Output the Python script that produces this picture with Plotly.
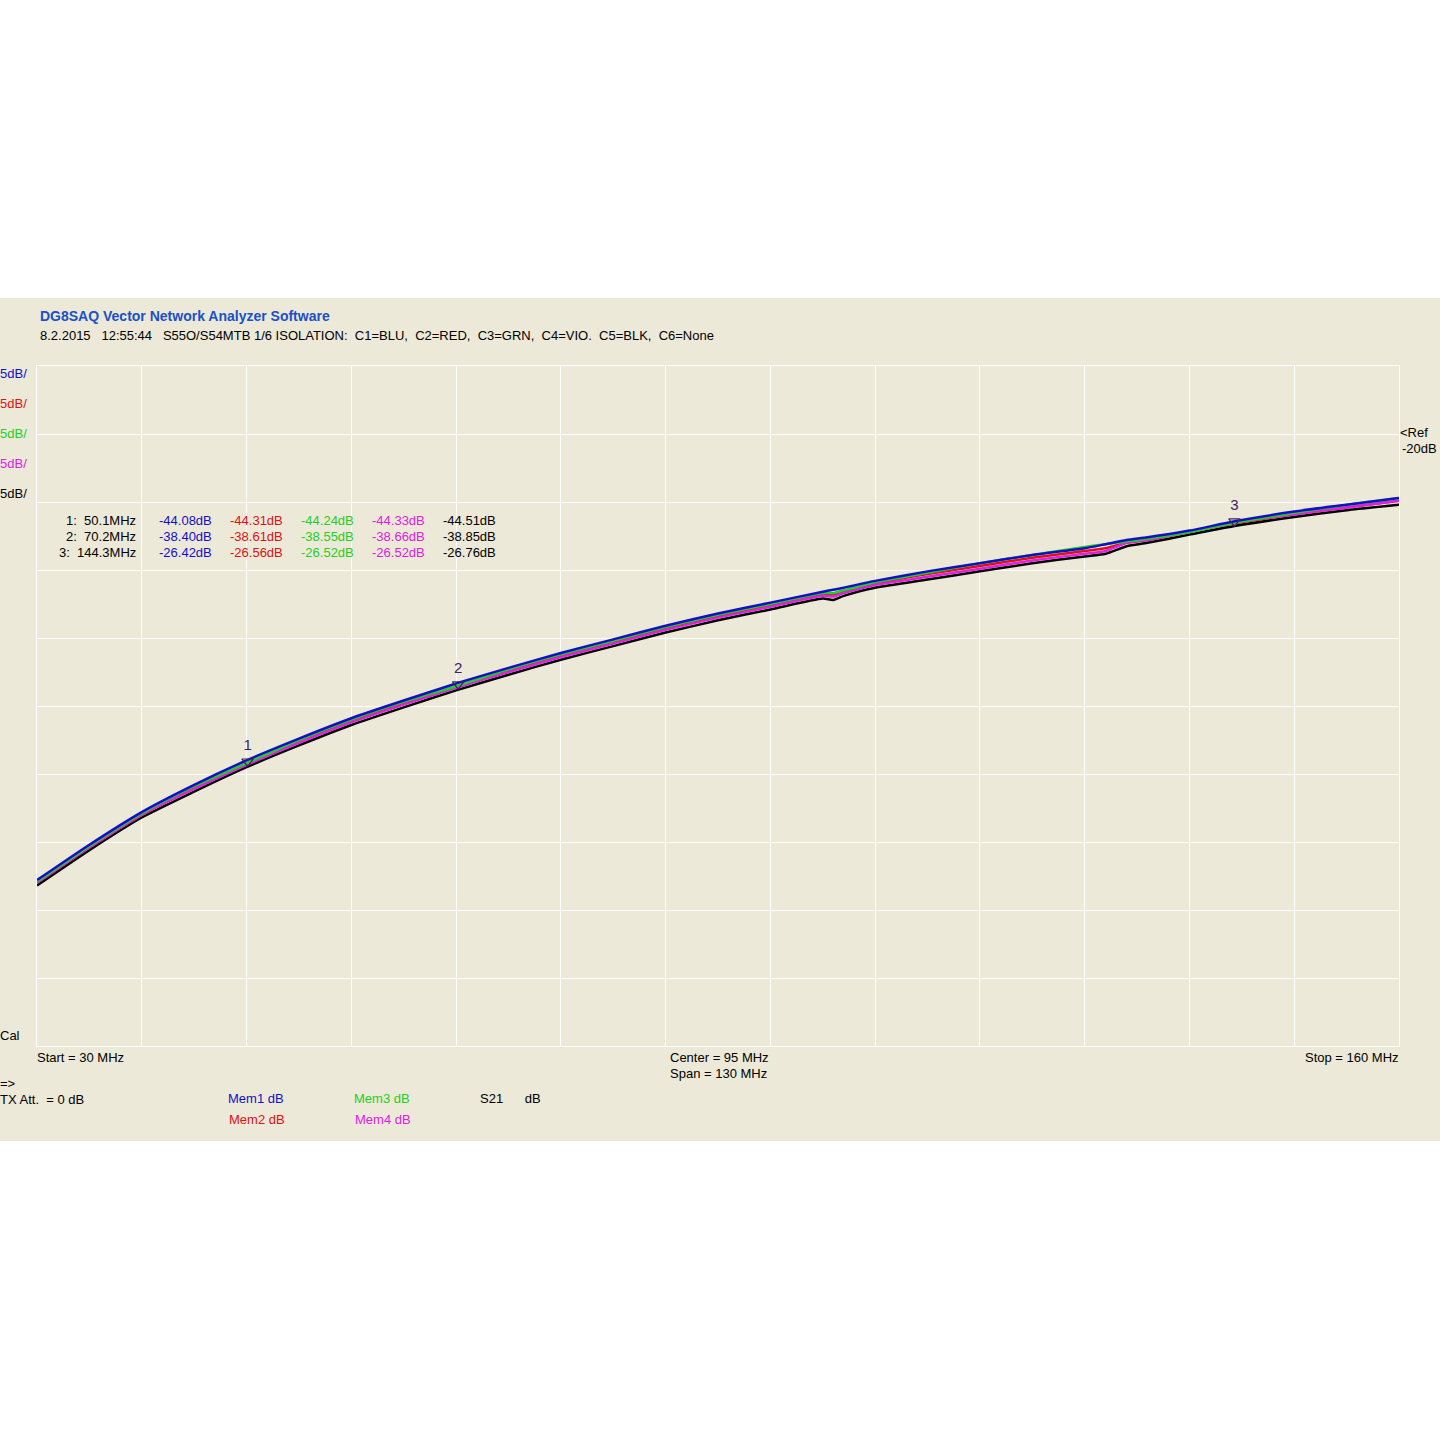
import plotly.graph_objects as go

# ---------------- data ----------------
freq_mhz = [30, 35, 40, 45, 50, 55, 60, 65, 70, 75, 80, 85, 90, 95, 100, 105, 106, 107,
            110, 115, 120, 125, 130, 132, 134, 136, 140, 144.3, 150, 155, 160]
mem1_blue = [-52.8, -50.2, -47.8, -45.8, -44.0, -42.4, -40.9, -39.6, -38.35, -37.2, -36.1, -35.1,
             -34.1, -33.2, -32.4, -31.6, -31.45, -31.3, -30.8, -30.1, -29.5, -28.9, -28.4, -28.1,
             -27.8, -27.6, -27.1, -26.42, -25.7, -25.2, -24.7]
mem2_red = [-53.0, -50.4, -48.0, -46.0, -44.3, -42.6, -41.1, -39.8, -38.6, -37.4, -36.3, -35.3,
            -34.3, -33.4, -32.6, -31.8, -31.8, -31.6, -31.0, -30.3, -29.7, -29.1, -28.6, -28.4,
            -28.0, -27.8, -27.2, -26.56, -25.9, -25.4, -24.9]
mem3_green = [-52.9, -50.3, -47.9, -45.9, -44.2, -42.5, -41.0, -39.7, -38.55, -37.3, -36.2, -35.2,
              -34.2, -33.3, -32.5, -31.7, -31.7, -31.5, -30.9, -30.2, -29.5, -28.9, -28.3, -28.1,
              -27.9, -27.7, -27.2, -26.52, -25.8, -25.2, -24.7]
mem4_violet = [-53.0, -50.4, -48.0, -46.1, -44.33, -42.7, -41.2, -39.9, -38.66, -37.5, -36.4, -35.4,
               -34.4, -33.5, -32.7, -31.9, -31.95, -31.7, -31.1, -30.5, -29.9, -29.3, -28.8, -28.6,
               -28.0, -27.8, -27.2, -26.52, -25.9, -25.4, -24.9]
s21_black = [-53.2, -50.6, -48.2, -46.3, -44.5, -42.9, -41.4, -40.1, -38.85, -37.7, -36.6, -35.6,
             -34.6, -33.7, -32.9, -32.1, -32.2, -31.9, -31.3, -30.7, -30.1, -29.5, -29.0, -28.8,
             -28.25, -28.0, -27.4, -26.76, -26.1, -25.6, -25.2]

marker_ids = ["1", "2", "3"]
marker_freq = [50.1, 70.2, 144.3]
marker_blue = [-44.08, -38.40, -26.42]
marker_red = [-44.31, -38.61, -26.56]
marker_green = [-44.24, -38.55, -26.52]
marker_violet = [-44.33, -38.66, -26.52]
marker_black = [-44.51, -38.85, -26.76]

# ---------------- styles ----------------
BEIGE = "#ECE9D8"
BLUE = "#1010C8"
RED = "#E01010"
GREEN = "#22D022"
VIO = "#E020E0"
BLK = "#000000"
FONT = "Liberation Sans"
FS = 13

L, R, T, B = 37, 1399, 366, 1046  # plot area pixels


def px(x):
    return (x - L) / (R - L)


def py(y):
    return (B - y) / (B - T)


fig = go.Figure()

series = [("S21", s21_black, BLK), ("Mem2", mem2_red, RED), ("Mem4", mem4_violet, VIO),
          ("Mem3", mem3_green, GREEN), ("Mem1", mem1_blue, BLUE)]
for name, vals, col in series:
    fig.add_trace(go.Scatter(x=freq_mhz, y=vals, mode="lines", name=name,
                             line=dict(color=col, width=2.5, shape="spline", smoothing=0.6),
                             showlegend=False))

fig.add_trace(go.Scatter(x=marker_freq, y=marker_blue, mode="markers+text",
                         text=marker_ids, textposition="top center",
                         textfont=dict(family=FONT, size=15, color="#402060"),
                         marker=dict(symbol="triangle-down-open", size=10,
                                     color="#402060", line=dict(width=1.2)),
                         showlegend=False))

ann = []


def txt(x, y, s, color=BLK, size=FS, anchor="left", bold=False):
    dx = -2 if anchor == "left" else 2
    ann.append(dict(x=px(x + dx), y=py(y), xref="paper", yref="paper",
                    text=("<b>%s</b>" % s) if bold else s,
                    showarrow=False, xanchor=anchor, yanchor="middle",
                    font=dict(family=FONT, size=size, color=color)))


txt(40, 316, "DG8SAQ Vector Network Analyzer Software", color="#1A50C8", size=14, bold=True)
txt(40, 336, "8.2.2015   12:55:44   S55O/S54MTB 1/6 ISOLATION:  C1=BLU,  C2=RED,  C3=GRN,  C4=VIO.  C5=BLK,  C6=None")

for i, col in enumerate([BLUE, RED, GREEN, VIO, BLK]):
    txt(0, 373 + 30 * i, "5dB/", color=col)

rows_y = [520, 536, 552]
for i in range(3):
    txt(136, rows_y[i], "%s:  %.1fMHz" % (marker_ids[i], marker_freq[i]), anchor="right")
    for xpos, arr, col in [(159, marker_blue, BLUE), (230, marker_red, RED), (301, marker_green, GREEN),
                           (372, marker_violet, VIO), (443, marker_black, BLK)]:
        txt(xpos, rows_y[i], "%.2fdB" % arr[i], color=col)

txt(1400, 432, "<Ref")
txt(1402, 448, "-20dB")
txt(0, 1035, "Cal")
txt(37, 1057, "Start = 30 MHz")
txt(670, 1057, "Center = 95 MHz")
txt(670, 1073, "Span = 130 MHz")
txt(1399, 1057, "Stop = 160 MHz", anchor="right")
txt(0, 1083, "=>")
txt(0, 1099, "TX Att.  = 0 dB")
txt(228, 1098, "Mem1 dB", color=BLUE)
txt(229, 1119, "Mem2 dB", color=RED)
txt(354, 1098, "Mem3 dB", color=GREEN)
txt(355, 1119, "Mem4 dB", color=VIO)
txt(480, 1098, "S21      dB")

fig.update_layout(
    width=1440, height=1440,
    margin=dict(l=L, r=1440 - R, t=T, b=1440 - B, pad=0),
    paper_bgcolor="white", plot_bgcolor=BEIGE,
    annotations=ann,
    shapes=[dict(type="rect", xref="paper", yref="paper", layer="below",
                 x0=px(0), x1=px(1440), y0=py(1141), y1=py(298),
                 fillcolor=BEIGE, line=dict(width=0))],
    xaxis=dict(range=[30, 160], dtick=10, tick0=30, showticklabels=False, ticks="",
               showgrid=True, gridcolor="white", gridwidth=1, zeroline=False,
               showline=True, linecolor="white", linewidth=1, mirror=True),
    yaxis=dict(range=[-65, -15], dtick=5, tick0=-65, showticklabels=False, ticks="",
               showgrid=True, gridcolor="white", gridwidth=1, zeroline=False,
               showline=True, linecolor="white", linewidth=1, mirror=True),
)

fig.write_html("out.html", config={"displayModeBar": False},
               post_script="document.body.style.margin='0';document.body.style.overflow='hidden';")
